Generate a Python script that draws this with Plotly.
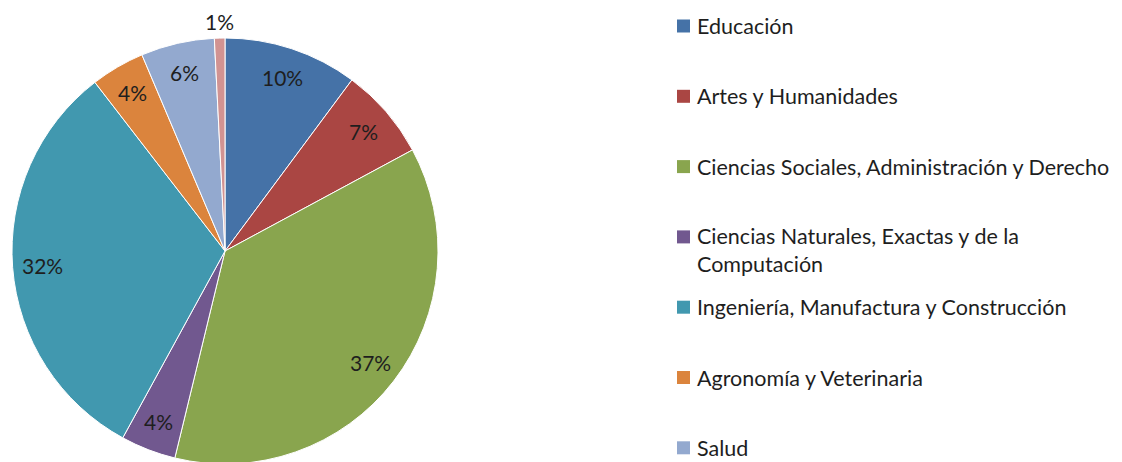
import math
import plotly.graph_objects as go

categories = [
    "Educación",
    "Artes y Humanidades",
    "Ciencias Sociales, Administración y Derecho",
    "Ciencias Naturales, Exactas y de la Computación",
    "Ingeniería, Manufactura y Construcción",
    "Agronomía y Veterinaria",
    "Salud",
    "Servicios",
]
legend_labels = [
    "Educación",
    "Artes y Humanidades",
    "Ciencias Sociales, Administración y Derecho",
    "Ciencias Naturales, Exactas y de la<br>Computación",
    "Ingeniería, Manufactura y Construcción",
    "Agronomía y Veterinaria",
    "Salud",
    "Servicios",
]
values = [10.2, 7.0, 36.8, 4.2, 31.7, 4.1, 5.6, 0.8]
label_outside = [False, False, False, False, False, False, False, True]
colors = ["#4572A7", "#AA4643", "#89A54E", "#71588F", "#4198AF", "#DB843D", "#93A9CF", "#D19392"]

# page body has an 8px margin: work in window pixels and convert
OFF = 8
W, H = 1114, 470
FONT = "Lato"
TEXT_COLOR = "#1E1E1E"


def px(x):
    return (x - OFF) / W


def py(y):
    return 1 - (y - OFF) / H


# pie geometry (window pixels)
CX, CY, R = 225, 251, 213

fig = go.Figure()
fig.add_trace(go.Pie(
    labels=categories,
    values=values,
    sort=False,
    direction="clockwise",
    rotation=0,
    marker=dict(colors=colors, line=dict(color="white", width=1)),
    textinfo="none",
    hovertemplate="%{label}: %{percent}<extra></extra>",
    domain=dict(x=[px(CX - R), px(CX + R)], y=[py(CY + R), py(CY - R)]),
    showlegend=False,
))

annotations = []
shapes = []

# percentage labels, placed along each slice's mid-angle
total = sum(values)
cum = 0.0
for v, out in zip(values, label_outside):
    mid = 2 * math.pi * (cum + v / 2) / total
    cum += v
    rr = R * (1.08 if out else 0.86)
    lx = CX + rr * math.sin(mid)
    ly = CY - rr * math.cos(mid)
    annotations.append(dict(
        text=f"{round(100 * v / total)}%", xref="paper", yref="paper",
        x=px(lx), y=py(ly), xanchor="center", yanchor="middle",
        showarrow=False,
        font=dict(family=FONT, size=21, color=TEXT_COLOR),
    ))

# manual legend (Excel-style evenly spaced entries)
top_px, step_px = 26, 70.3
sq = 13
line_h = 27
for i, (lab, col) in enumerate(zip(legend_labels, colors)):
    cy = top_px + i * step_px
    if cy > 462 - 6:
        continue
    n_lines = lab.count("<br>") + 1
    shapes.append(dict(
        type="rect", xref="paper", yref="paper",
        x0=px(677), x1=px(677 + sq),
        y0=py(cy + sq / 2), y1=py(cy - sq / 2),
        fillcolor=col, line=dict(width=0),
    ))
    annotations.append(dict(
        text=lab, xref="paper", yref="paper",
        x=px(695), y=py(cy + (n_lines - 1) * line_h / 2),
        xanchor="left", yanchor="middle", align="left",
        showarrow=False,
        font=dict(family=FONT, size=21.5, color=TEXT_COLOR),
    ))

fig.update_layout(
    width=W, height=H,
    margin=dict(l=0, r=0, t=0, b=0),
    paper_bgcolor="white",
    plot_bgcolor="white",
    shapes=shapes,
    annotations=annotations,
)

fig.write_html("out.html")
